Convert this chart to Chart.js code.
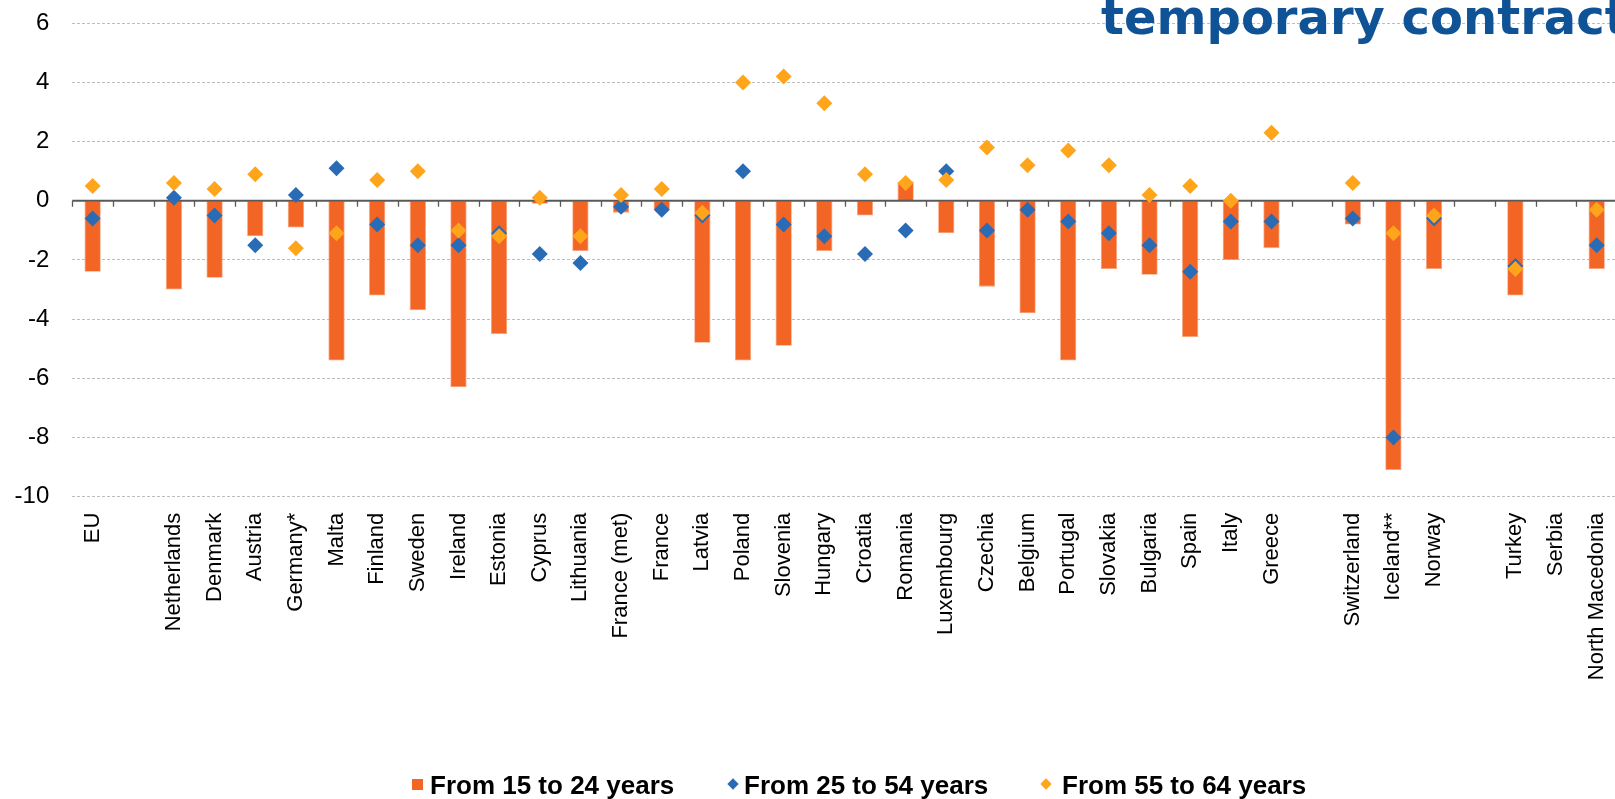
<!DOCTYPE html>
<html>
<head>
<meta charset="utf-8">
<script src="https://cdn.jsdelivr.net/npm/chart.js@4.4.1/dist/chart.umd.min.js"></script>
<style>
  html, body { margin: 0; padding: 0; background: #ffffff; overflow: hidden; }
  #wrap { position: relative; width: 1615px; height: 799px; overflow: hidden; }
  #c { position: absolute; left: 0; top: 0; }
  #title { position: absolute; left: 1101px; top: -7px; font-family: "DejaVu Sans", Verdana, sans-serif; font-weight: bold; font-size: 48px; line-height: 48px; color: #0F5396; white-space: nowrap; }
  .lg { position: absolute; top: 770px; font-family: "Liberation Sans", Arial, sans-serif; font-weight: bold; font-size: 26px; line-height: 30px; color: #000; white-space: nowrap; }
  .sq { position: absolute; width: 11px; height: 11px; top: 779px; }
  .dm { position: absolute; width: 8px; height: 8px; top: 780px; transform: rotate(45deg); }
</style>
</head>
<body>
<div id="wrap">
  <canvas id="c" width="1625" height="799"></canvas>
  <div id="title">temporary contracts</div>
  <div class="sq" style="left:412px;background:#F26524;"></div>
  <div class="lg" style="left:430px;">From 15 to 24 years</div>
  <div class="dm" style="left:729px;background:#2A6BB5;"></div>
  <div class="lg" style="left:744px;">From 25 to 54 years</div>
  <div class="dm" style="left:1042px;background:#FFA51C;"></div>
  <div class="lg" style="left:1062px;">From 55 to 64 years</div>
</div>
<script>
const categories = ['EU', '', 'Netherlands', 'Denmark', 'Austria', 'Germany*', 'Malta', 'Finland', 'Sweden', 'Ireland', 'Estonia', 'Cyprus', 'Lithuania', 'France (met)', 'France', 'Latvia', 'Poland', 'Slovenia', 'Hungary', 'Croatia', 'Romania', 'Luxembourg', 'Czechia', 'Belgium', 'Portugal', 'Slovakia', 'Bulgaria', 'Spain', 'Italy', 'Greece', '', 'Switzerland', 'Iceland**', 'Norway', '', 'Turkey', 'Serbia', 'North Macedonia'];

const age15to24 = [-2.4, null, -3.0, -2.6, -1.2, -0.9, -5.4, -3.2, -3.7, -6.3, -4.5, -0.1, -1.7, -0.4, -0.3, -4.8, -5.4, -4.9, -1.7, -0.5, 0.65, -1.1, -2.9, -3.8, -5.4, -2.3, -2.5, -4.6, -2.0, -1.6, null, -0.8, -9.1, -2.3, null, -3.2, null, -2.3];

const age25to54 = [-0.6, null, 0.1, -0.5, -1.5, 0.2, 1.1, -0.8, -1.5, -1.5, -1.1, -1.8, -2.1, -0.2, -0.3, -0.5, 1.0, -0.8, -1.2, -1.8, -1.0, 1.0, -1.0, -0.3, -0.7, -1.1, -1.5, -2.4, -0.7, -0.7, null, -0.6, -8.0, -0.6, null, -2.2, null, -1.5];

const age55to64 = [0.5, null, 0.6, 0.4, 0.9, -1.6, -1.1, 0.7, 1.0, -1.0, -1.2, 0.1, -1.2, 0.2, 0.4, -0.4, 4.0, 4.2, 3.3, 0.9, 0.6, 0.7, 1.8, 1.2, 1.7, 1.2, 0.2, 0.5, 0.0, 2.3, null, 0.6, -1.1, -0.5, null, -2.3, null, -0.3];

const seriesNames = ['From 15 to 24 years', 'From 25 to 54 years', 'From 55 to 64 years'];
const yTicks = { min: -10, max: 6, step: 2 };

const zeroAxis = {
  id: 'zeroAxis',
  afterDatasetDraw(chart, args) {
    if (args.index !== 0) return;
    const x = chart.scales.x, y = chart.scales.y;
    const ctx = chart.ctx;
    const y0 = y.getPixelForValue(0);
    ctx.save();
    ctx.strokeStyle = '#595959';
    ctx.lineWidth = 2;
    ctx.beginPath();
    ctx.moveTo(x.left, y0);
    ctx.lineTo(x.right, y0);
    ctx.stroke();
    ctx.lineWidth = 1.3;
    ctx.beginPath();
    for (let i = 0; i <= categories.length; i++) {
      const px = Math.round(x.getPixelForValue(i - 0.5)) + 0.5;
      ctx.moveTo(px, y0);
      ctx.lineTo(px, y0 + 6);
    }
    ctx.stroke();
    ctx.restore();
  }
};

const xFont = { family: '"Liberation Sans", Arial, sans-serif', size: 22 };
const yFont = { family: '"Liberation Sans", Arial, sans-serif', size: 24 };

new Chart(document.getElementById('c'), {
  data: {
    labels: categories,
    datasets: [
      { type: 'bar', label: seriesNames[0], data: age15to24, backgroundColor: '#F26524', borderColor: '#F7A07A', borderWidth: 0.8, barPercentage: 0.4, categoryPercentage: 1, order: 3 },
      { type: 'line', label: seriesNames[1], data: age25to54, showLine: false, pointStyle: 'rectRot', pointRadius: 8, pointHoverRadius: 8, pointBackgroundColor: '#2A6BB5', pointBorderColor: '#2A6BB5', pointBorderWidth: 0, order: 2 },
      { type: 'line', label: seriesNames[2], data: age55to64, showLine: false, pointStyle: 'rectRot', pointRadius: 8, pointHoverRadius: 8, pointBackgroundColor: '#FFA51C', pointBorderColor: '#FFA51C', pointBorderWidth: 0, order: 1 }
    ]
  },
  options: {
    responsive: false,
    animation: false,
    devicePixelRatio: 1,
    layout: { padding: { top: 23.3, left: 0, right: 0, bottom: 0 } },
    plugins: { legend: { display: false }, tooltip: { enabled: false }, title: { display: false } },
    scales: {
      x: {
        type: 'category',
        offset: true,
        grid: { display: false },
        border: { display: false },
        ticks: { autoSkip: false, minRotation: 90, maxRotation: 90, padding: 8, color: '#000', font: xFont },
        afterFit(scale) { scale.height = 799 - 23.3 - 473.4; scale.paddingLeft = 0; scale.paddingRight = 0; }
      },
      y: {
        min: yTicks.min, max: yTicks.max,
        ticks: { stepSize: yTicks.step, padding: 23, color: '#000', font: yFont },
        grid: {
          drawTicks: false,
          color: (c) => (c.tick && c.tick.value === 0) ? 'rgba(0,0,0,0)' : '#BDBDBD',
          lineWidth: 1
        },
        border: { display: false, dash: [3, 2] },
        afterFit(scale) { scale.width = 72.3; scale.paddingTop = 0; scale.paddingBottom = 0; }
      }
    }
  },
  plugins: [zeroAxis]
});
</script>
</body>
</html>
